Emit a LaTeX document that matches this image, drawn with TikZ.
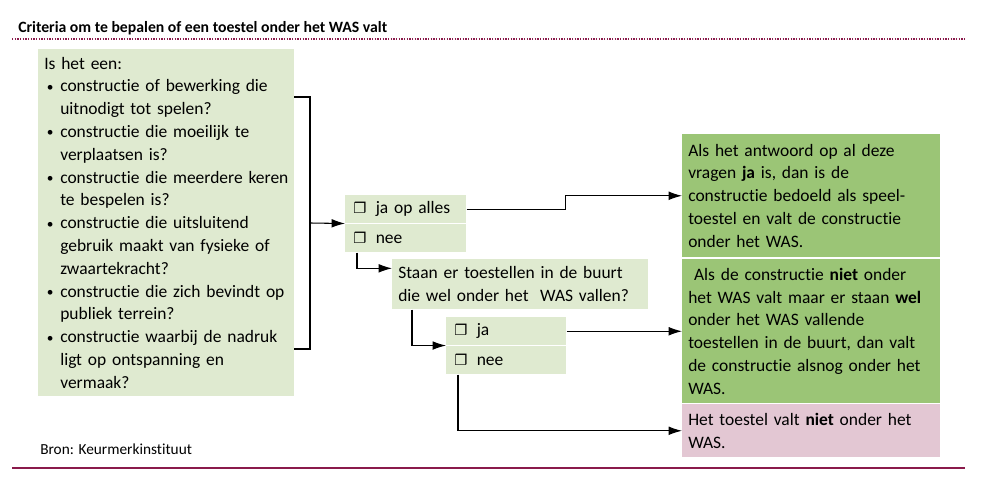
\documentclass[tikz,border=0pt]{standalone}
\usepackage{fontspec}
\setmainfont{Carlito}[Ligatures=NoCommon]
\newfontfamily\boxfont{DejaVu Sans}
\usetikzlibrary{arrows.meta,%
                positioning}

\definecolor{lightgreen}{HTML}{DFEAD0}
\definecolor{darkgreen}{HTML}{9BC576}
\definecolor{pinkish}{HTML}{E3C7D3}
\definecolor{wine}{HTML}{8A1A4B}

\newcommand{\chk}{{\boxfont\fontsize{11}{12}\selectfont ❐}\hspace{7pt}}
\newcommand{\critem}{\par\hangindent=12pt\hangafter=1\noindent
  \makebox[12pt][l]{\hspace{2pt}\raisebox{0.5pt}{\fontsize{10}{10}\selectfont\textbullet}}}

\begin{document}
\begin{tikzpicture}[
x=0.75pt, y=-0.75pt,
every node/.style={font=\fontsize{13.1}{17.1}\selectfont},
critbox/.style={fill=lightgreen, anchor=north west,
  execute at begin node={\raggedright\leftskip=1.5pt},
  inner xsep=3pt, inner ysep=2pt, text width=186pt, minimum height=260.25pt},
answer/.style={fill=lightgreen, anchor=north west, align=left,
  inner xsep=6pt, inner ysep=0pt, text width=78.75pt, minimum height=21pt},
question/.style={fill=lightgreen, anchor=north west, align=left,
  inner xsep=4.5pt, inner ysep=0pt, text width=183pt, minimum height=37.5pt},
result/.style={anchor=north west, align=left,
  inner xsep=4.5pt, inner ysep=0pt, text width=184.5pt},
conn/.style={line width=0.8pt},
arr/.style={conn, -{Latex[length=10pt,width=6.5pt]}}]

\useasboundingbox (0,0) rectangle (987,484);

% title and rules
\node [anchor=base west, inner sep=0pt, font=\fontsize{11.8}{14}\selectfont\bfseries] (title) at (18,33)
  {Criteria om te bepalen of een toestel onder het WAS valt};
\draw [wine, line width=0.9pt, dash pattern=on 1pt off 1pt] (12,39) -- (965,39);
\draw [wine, line width=1.8pt] (12,468) -- (965,468);
\node [anchor=base west, inner sep=0pt, font=\fontsize{11.5}{14}\selectfont] (bron) at (40,454)
  {Bron: Keurmerkinstituut};

% criteria
\node [critbox] (crit) at (38,49) {Is het een:
  \critem constructie of bewerking die\newline uitnodigt tot spelen?
  \critem constructie die moeilijk te\newline verplaatsen is?
  \critem constructie die meerdere keren\newline te bespelen is?
  \critem constructie die uitsluitend\newline gebruik maakt van fysieke of\newline zwaartekracht?
  \critem constructie die zich bevindt op\newline publiek terrein?
  \critem constructie waarbij de nadruk\newline ligt op ontspanning en\newline vermaak?\par};

% answers
\node [answer] (ja1) at (345,195) {\chk ja op alles};
\node [answer] (nee1) at (345,224) {\chk nee};
\node [question] (quest) at (392,259) {Staan er toestellen in de buurt\\ die wel onder het \ WAS vallen?};
\node [answer, text width=78pt] (ja2) at (446,317) {\chk ja};
\node [answer, text width=78pt] (nee2) at (446,346) {\chk nee};

% results
\node [result, fill=darkgreen, minimum height=92.25pt] (res1) at (682,134)
  {Als het antwoord op al deze\\ vragen \textbf{ja} is, dan is de\\ constructie bedoeld als speel-\\ toestel en valt de constructie\\ onder het WAS.};
\node [result, fill=darkgreen, minimum height=108pt] (res2) at (682,259)
  {\ Als de constructie \textbf{niet} onder\\ het WAS valt maar er staan \textbf{wel}\\ onder het WAS vallende\\ toestellen in de buurt, dan valt\\ de constructie alsnog onder het\\ WAS.};
\node [result, fill=pinkish, minimum height=39.75pt] (res3) at (682,404)
  {Het toestel valt \textbf{niet} onder het\\ WAS.};

% connectors
\coordinate (brtop) at (294,97);
\coordinate (brmid) at (310,223);
\coordinate (brbot) at (294,349);
\draw [conn] (brtop) -| (brmid) |- (brbot);
\draw [arr] (brmid) -- (ja1.south west);
\draw [arr] (ja1.east) -- ++(99,0) |- (res1.west);
\draw [arr] ([xshift=9pt]nee1.south west) |- ([yshift=-7pt]quest.north west);
\draw [arr] ([xshift=15pt]quest.south west) |- (ja2.south west);
\draw [arr] (ja2.east) -- (ja2.east -| res2.west);
\draw [arr] ([xshift=9pt]nee2.south west) |- (res3.west);
\end{tikzpicture}
\end{document}
